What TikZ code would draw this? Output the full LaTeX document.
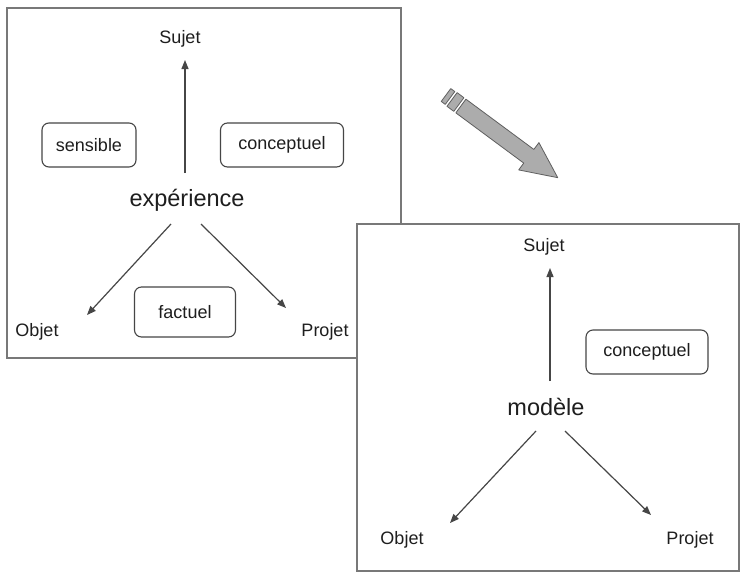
\documentclass[tikz,border=0pt]{standalone}
\usepackage{fontspec}
\setmainfont{Liberation Sans}
\usetikzlibrary{arrows.meta}
\definecolor{frame}{RGB}{120,120,120}
\definecolor{ink}{RGB}{30,30,30}
\definecolor{conn}{RGB}{70,70,70}
\definecolor{bigfill}{RGB}{172,172,172}
\definecolor{bigdraw}{RGB}{95,95,95}
\tikzset{
  panel/.style={draw=frame, line width=1.5pt, fill=white},
  lbl/.style={text=ink, font=\fontsize{18}{20}\selectfont, inner sep=0pt},
  core/.style={text=ink, font=\fontsize{23.5}{26}\selectfont, inner sep=0pt},
  tagbox/.style={draw=conn, line width=1.1pt, rounded corners=7pt, text=ink,
    font=\fontsize{18}{20}\selectfont, inner sep=0pt, minimum height=44pt},
  link/.style={draw=conn, line width=1.2pt, -{Triangle[length=9pt,width=7pt]}},
  bigarrow/.style={fill=bigfill, draw=bigdraw, line width=0.8pt, line join=round}
}
\begin{document}
\begin{tikzpicture}[x=1pt,y=-1pt]
\useasboundingbox (0,0) rectangle (741,573);
% left panel
\draw[panel] (7,8) rectangle (401,358);
\node[lbl] (sujetA) at (180,39) {Sujet};
\node[tagbox, minimum width=94pt] (sensA) at (89,145) {sensible};
\node[tagbox, minimum width=123pt] (concA) at (282,145) {conceptuel};
\node[core] (expA) at (187,200) {expérience};
\node[tagbox, minimum width=101pt, minimum height=50pt] (factA) at (185,312) {factuel};
\node[lbl] (objA) at (37,332) {Objet};
\node[lbl] (projA) at (325,332) {Projet};
\coordinate (aU0) at (185,173); \coordinate (aU1) at (185,60);
\coordinate (aL0) at (171,224); \coordinate (aL1) at (87,315);
\coordinate (aR0) at (201,224); \coordinate (aR1) at (286,308);
\draw[link] (aU0) -- (aU1);
\draw[link] (aL0) -- (aL1);
\draw[link] (aR0) -- (aR1);
% big arrow
\begin{scope}[shift={(446,95)}, rotate=-36.5]
  \draw[bigarrow] (0,-8) rectangle (5,8);
  \draw[bigarrow] (7.5,-8.5) rectangle (16,8.5);
  \draw[bigarrow] (18.5,-8.5) -- (103,-8.5) -- (103,-17) -- (139,0) -- (103,17) -- (103,8.5) -- (18.5,8.5) -- cycle;
\end{scope}
% right panel
\draw[panel] (357,224) rectangle (739,571);
\node[lbl] (sujetB) at (544,247) {Sujet};
\node[tagbox, minimum width=122pt] (concB) at (647,352) {conceptuel};
\node[core] (modB) at (546,407) {modèle};
\node[lbl] (objB) at (402,540) {Objet};
\node[lbl] (projB) at (690,540) {Projet};
\coordinate (bU0) at (550,381); \coordinate (bU1) at (550,268);
\coordinate (bL0) at (536,431); \coordinate (bL1) at (450,523);
\coordinate (bR0) at (565,431); \coordinate (bR1) at (651,515);
\draw[link] (bU0) -- (bU1);
\draw[link] (bL0) -- (bL1);
\draw[link] (bR0) -- (bR1);
\end{tikzpicture}
\end{document}
